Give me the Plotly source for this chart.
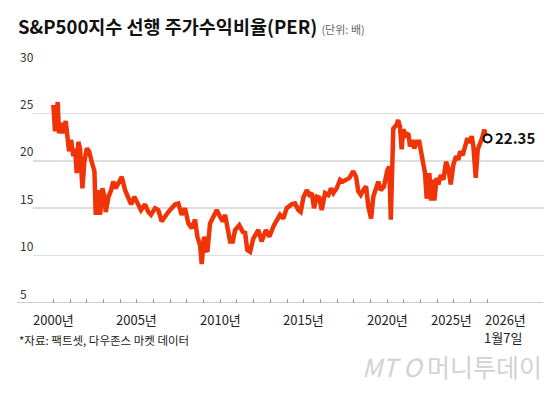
import plotly.graph_objects as go

# ---- data (decimal years since 2000 offset added below) ----
year_offsets = [
    0.00, 0.10, 0.26, 0.34, 0.50, 0.60, 0.74, 0.86, 0.94, 1.06, 1.20, 1.30, 1.40, 1.50,
    1.60, 1.74, 1.86, 2.00, 2.14, 2.30, 2.46, 2.54, 2.70, 2.80, 2.94, 3.06, 3.14, 3.30,
    3.46, 3.59, 3.74, 3.89, 4.10, 4.30, 4.46, 4.66, 4.85, 5.06, 5.25, 5.49, 5.69, 5.85,
    6.09, 6.29, 6.49, 6.89, 7.29, 7.49, 7.69, 7.89, 8.09, 8.29, 8.49, 8.63, 8.79, 8.89,
    9.03, 9.15, 9.23, 9.39, 9.59, 9.79, 9.99, 10.15, 10.29, 10.43, 10.59, 10.75, 10.89,
    11.14, 11.35, 11.49, 11.62, 11.79, 11.98, 12.28, 12.48, 12.74, 12.94, 13.22, 13.39,
    13.58, 13.78, 13.98, 14.28, 14.48, 14.68, 14.82, 14.98, 15.18, 15.34, 15.48, 15.62,
    15.78, 15.94, 16.08, 16.28, 16.48, 16.64, 16.78, 16.98, 17.18, 17.34, 17.54, 17.74,
    17.97, 18.14, 18.27, 18.42, 18.57, 18.74, 18.87, 19.04, 19.17, 19.33, 19.47, 19.62,
    19.81, 20.01, 20.13, 20.22, 20.37, 20.57, 20.66, 20.77, 20.87, 20.97, 21.13, 21.27,
    21.37, 21.51, 21.63, 21.77, 21.93, 22.03, 22.13, 22.27, 22.37, 22.53, 22.63, 22.73,
    22.83, 22.97, 23.07, 23.21, 23.37, 23.53, 23.67, 23.81, 23.97, 24.13, 24.27, 24.37,
    24.53, 24.67, 24.81, 24.93, 25.07, 25.17, 25.31, 25.43, 25.59, 25.69, 25.83, 25.95,
    26.02,
]
per_values = [
    25.9, 23.1, 26.2, 22.9, 24.0, 22.9, 24.2, 22.2, 21.0, 22.2, 20.5, 21.3, 18.7, 22.0,
    21.3, 17.1, 19.9, 21.3, 21.0, 19.9, 18.9, 14.3, 16.9, 14.3, 17.1, 16.2, 14.6, 16.2,
    16.9, 17.8, 17.1, 17.6, 18.3, 16.9, 16.1, 15.4, 16.2, 15.4, 14.8, 15.4, 14.6, 14.3,
    15.0, 14.8, 13.6, 14.6, 15.4, 15.5, 14.3, 15.0, 13.4, 12.9, 13.8, 12.0, 11.1, 9.1,
    12.0, 10.6, 10.4, 13.4, 14.1, 14.8, 14.1, 13.6, 14.3, 12.7, 11.5, 11.5, 12.7,
    13.2, 12.5, 12.4, 10.6, 10.4, 11.8, 12.7, 11.5, 12.7, 12.0, 13.2, 13.7,
    14.3, 13.9, 15.0, 15.4, 15.5, 14.8, 14.6, 16.1, 16.9, 16.4, 16.6, 15.0,
    16.2, 16.1, 14.8, 16.6, 16.4, 17.1, 16.6, 17.1, 18.0, 17.8, 18.0, 18.2,
    18.9, 18.3, 16.8, 16.4, 16.9, 17.3, 15.2, 13.9, 16.2, 16.9, 17.8, 16.9,
    17.3, 19.0, 19.4, 13.8, 23.4, 23.8, 24.3, 23.6, 21.2, 23.3, 22.7, 22.9,
    21.5, 22.2, 21.3, 22.0, 22.0, 21.0, 19.8, 18.7, 16.0, 18.7, 15.8, 18.0,
    15.8, 18.2, 17.5, 18.5, 18.0, 19.9, 19.2, 17.5, 19.6, 20.5, 20.1, 21.0,
    20.6, 21.5, 22.4, 21.9, 22.6, 21.5, 18.2, 21.2, 21.9, 22.4, 23.3, 22.0,
    22.35,
]
years = [2000 + d for d in year_offsets]

last_x = years[-1]
last_value = 22.35
last_label = "22.35"

x_tick_years = list(range(2000, 2027))
grid_values = [10, 15, 20, 25, 30]
y_label_values = [5, 10, 15, 20, 25, 30]
x_label_years = [2000, 2005, 2010, 2015, 2020]
x_label_texts = ["2000년", "2005년", "2010년", "2015년", "2020년"]
label_2025 = "2025년"
label_2026 = "2026년"
label_date = "1월7일"

title_text = "<b>S&P500지수 선행 주가수익비율(PER)</b> <span style='font-size:11px;color:#666'>(단위: 배)</span>"
source_text = "*자료: 팩트셋, 다우존스 마켓 데이터"
watermark_text = "<i>MT</i> <i>O</i> 머니투데이"

FONT = "Noto Sans CJK KR"
W, H = 560, 393
ML, MR, MT, MB = 33, 16, 66, 90
PW = W - ML - MR
PH = H - MT - MB


def px_x(px):
    return (px - ML) / PW


def px_y(py):
    return (H - MB - py) / PH


fig = go.Figure()
fig.add_trace(go.Scatter(
    x=years, y=per_values, mode="lines",
    line=dict(color="rgb(240,52,8)", width=4.5),
    hoverinfo="skip", showlegend=False,
))
fig.add_trace(go.Scatter(
    x=[last_x], y=[last_value], mode="markers",
    marker=dict(symbol="circle", size=8, color="white", line=dict(color="black", width=2)),
    hoverinfo="skip", showlegend=False,
))

annotations = []
# y labels above gridlines, left aligned
for v in y_label_values:
    annotations.append(dict(
        x=px_x(18), xref="paper", y=v, yref="y", xanchor="left", yanchor="middle",
        yshift=10, text=str(v), showarrow=False,
        font=dict(family=FONT, size=12, color="#333"),
    ))
# x labels
xl_font = dict(family=FONT, size=13, color="#222")
for yr, t in zip(x_label_years, x_label_texts):
    annotations.append(dict(
        x=yr, xref="x", y=0, yref="paper", xanchor="center", yanchor="top",
        yshift=-5, text=t, showarrow=False, font=xl_font,
    ))
annotations.append(dict(
    x=2025.2, xref="x", y=0, yref="paper", xanchor="right", yanchor="top",
    yshift=-5, text=label_2025, showarrow=False, font=xl_font,
))
annotations.append(dict(
    x=2025.76, xref="x", y=0, yref="paper", xanchor="left", yanchor="top",
    yshift=-5, text=label_2026, showarrow=False, font=xl_font,
))
annotations.append(dict(
    x=2026.95, xref="x", y=0, yref="paper", xanchor="center", yanchor="top",
    yshift=-23, text=label_date, showarrow=False, font=xl_font,
))
# last value label
annotations.append(dict(
    x=last_x, xref="x", y=last_value, yref="y", xanchor="left", yanchor="middle",
    xshift=5, yshift=1, text="<b>" + last_label + "</b>", showarrow=False,
    font=dict(family=FONT, size=15, color="#111"),
))
# title
annotations.append(dict(
    x=px_x(16), xref="paper", y=px_y(26), yref="paper", xanchor="left", yanchor="middle",
    text=title_text, showarrow=False,
    font=dict(family=FONT, size=18.5, color="#111"),
))
# source
annotations.append(dict(
    x=px_x(17), xref="paper", y=px_y(340), yref="paper", xanchor="left", yanchor="middle",
    text=source_text, showarrow=False,
    font=dict(family=FONT, size=11.5, color="#222"),
))
# watermark
annotations.append(dict(
    x=px_x(544), xref="paper", y=px_y(366), yref="paper", xanchor="right", yanchor="middle",
    text=watermark_text, showarrow=False,
    font=dict(family=FONT, size=25, color="#d2d2d2"),
))

shapes = [dict(
    type="line", xref="paper", yref="y",
    x0=px_x(17), x1=px_x(543), y0=5, y1=5,
    line=dict(color="#9a9a9a", width=1.2),
)]

fig.update_layout(
    width=W, height=H,
    margin=dict(l=ML, r=MR, t=MT, b=MB),
    paper_bgcolor="white", plot_bgcolor="white",
    font=dict(family=FONT),
    hovermode=False,
    xaxis=dict(
        range=[1998.78, 2029.40], tickvals=x_tick_years, ticks="inside",
        ticklen=4, tickcolor="#9a9a9a", tickwidth=1, showticklabels=False,
        showgrid=False, zeroline=False, showline=False, fixedrange=True,
    ),
    yaxis=dict(
        range=[5, 30], tickvals=grid_values, showticklabels=False,
        showgrid=True, gridcolor="#dedede", gridwidth=1.5, zeroline=False,
        showline=False, fixedrange=True,
    ),
    annotations=annotations,
    shapes=shapes,
    showlegend=False,
)

fig.write_html(
    "out.html",
    config={"displayModeBar": False, "staticPlot": True},
    post_script="document.body.style.margin='0';",
)
